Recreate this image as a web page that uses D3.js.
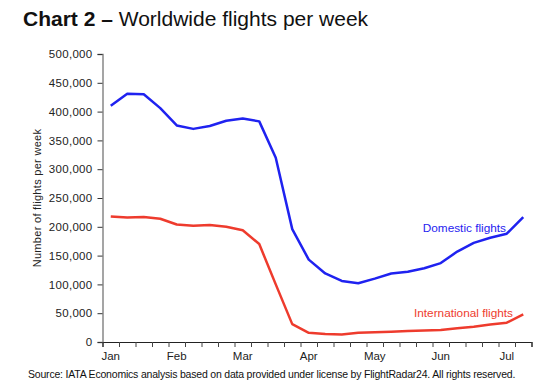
<!DOCTYPE html>
<html><head><meta charset="utf-8">
<script src="https://cdn.jsdelivr.net/npm/d3@7/dist/d3.min.js"></script>
<style>
body{margin:0;background:#fff;}
text{font-family:"Liberation Sans",Arial,sans-serif;}
</style></head>
<body><svg id="c" width="536" height="390"></svg>
<script>
const weeks = d3.range(26);
const domestic = [410000, 431000, 430000, 406000, 376000, 370000, 375000, 384000, 388000, 383000, 320000, 196000, 143000, 119000, 106000, 102000, 110000, 119000, 122000, 128000, 137000, 157000, 172000, 181000, 188000, 217000];
const international = [218000, 216000, 217000, 214000, 204000, 202000, 203000, 200000, 194000, 170000, 100000, 31000, 16000, 14000, 13000, 16000, 17000, 18000, 19000, 20000, 21000, 24000, 26500, 30500, 33500, 48000];
const months = ["Jan","Feb","Mar","Apr","May","Jun","Jul"];
const monthWeek = [0,4,8,12,16,20,24];
const yTicks = [0,50000,100000,150000,200000,250000,300000,350000,400000,450000,500000];

const svg = d3.select("#c");
const mLeft = 102.5, mRight = 531.5, mTop = 54, mBottom = 342;
const x = d3.scaleLinear().domain([0,26]).range([mLeft,mRight]);
const y = d3.scaleLinear().domain([0,500000]).range([mBottom,mTop]);

// title
const t = svg.append("text").attr("x",23).attr("y",26).attr("font-size",21).attr("fill","#111");
t.append("tspan").attr("font-weight","bold").text("Chart 2 \u2013 ");
t.append("tspan").text("Worldwide flights per week");

// y axis
const ya = svg.append("g").attr("transform",`translate(${mLeft},0)`)
  .call(d3.axisLeft(y).tickValues(yTicks).tickSize(5).tickPadding(5).tickFormat(d3.format(",")));
ya.select(".domain").attr("stroke","#888").attr("stroke-width",1.5);
ya.selectAll(".tick line").attr("stroke","#333");
ya.selectAll("text").attr("font-size",11.5).attr("letter-spacing","0.3").attr("fill","#222").attr("font-family","Liberation Sans, Arial, sans-serif");

// x axis
const xa = svg.append("g").attr("transform",`translate(0,${mBottom})`)
  .call(d3.axisBottom(x).tickValues(d3.range(27)).tickSize(5).tickFormat(""));
xa.select(".domain").attr("stroke","#222").attr("stroke-width",1.2);
xa.selectAll(".tick line").attr("stroke","#444");

svg.append("g").selectAll("text").data(months).join("text")
  .attr("x",(d,i)=>x(monthWeek[i]+0.5)).attr("y",360).attr("text-anchor","middle")
  .attr("font-size",11.5).attr("fill","#222").text(d=>d);

// y title
svg.append("text").attr("transform","translate(41,198) rotate(-90)").attr("text-anchor","middle")
  .attr("font-size",11).attr("letter-spacing","0.3").attr("fill","#222").text("Number of flights per week");

const line = d3.line().x((d,i)=>x(i+0.5)).y(d=>y(d));
svg.append("path").datum(domestic).attr("d",line).attr("fill","none").attr("stroke","#1f22f0").attr("stroke-width",2.5).attr("stroke-linejoin","round");
svg.append("path").datum(international).attr("d",line).attr("fill","none").attr("stroke","#ee3b2d").attr("stroke-width",2.5).attr("stroke-linejoin","round");

svg.append("text").attr("x",506).attr("y",232).attr("text-anchor","end").attr("font-size",11.8).attr("fill","#1f22f0").text("Domestic flights");
svg.append("text").attr("x",513).attr("y",317).attr("text-anchor","end").attr("font-size",11.8).attr("fill","#ee3b2d").text("International flights");

svg.append("text").attr("x",28).attr("y",378).attr("font-size",10.5).attr("fill","#111").attr("letter-spacing","-0.2")
  .text("Source: IATA Economics analysis based on data provided under license by FlightRadar24. All rights reserved.");
</script></body></html>
